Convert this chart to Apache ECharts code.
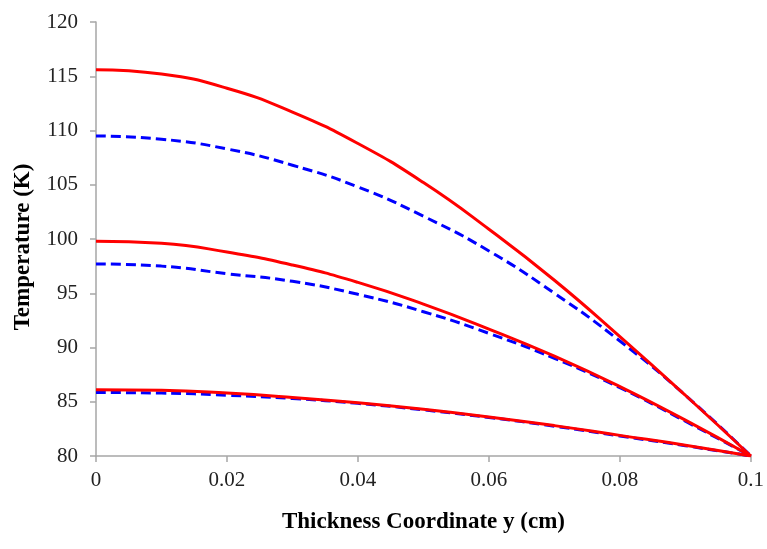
<!DOCTYPE html>
<html>
<head>
<meta charset="utf-8">
<script src="https://cdn.jsdelivr.net/npm/echarts@6/dist/echarts.min.js"></script>
<style>html,body{margin:0;padding:0;background:#fff;}#c{width:767px;height:549px;}</style>
</head>
<body>
<div id="c"></div>
<script>
const yPos = [0, 0.01, 0.02, 0.03, 0.04, 0.05, 0.06, 0.07, 0.08, 0.09, 0.1];
const redHigh  = [115.6, 115.2, 113.9, 111.7, 108.8, 105.2, 100.9, 96.2, 91.0, 85.6, 80];
const blueHigh = [109.5, 109.2, 108.3, 106.8, 104.8, 102.1, 98.9, 95.0, 90.6, 85.6, 80];
const redMid   = [99.8, 99.6, 98.8, 97.6, 96.0, 94.0, 91.7, 89.2, 86.4, 83.3, 80];
const blueMid  = [97.7, 97.5, 96.8, 96.1, 94.9, 93.3, 91.3, 89.0, 86.3, 83.2, 80];
const redLow   = [86.1, 86.05, 85.8, 85.4, 84.9, 84.3, 83.6, 82.8, 81.9, 81.0, 80];
const blueLow  = [85.85, 85.8, 85.6, 85.3, 84.85, 84.25, 83.55, 82.75, 81.85, 80.95, 80];
const xTitle = 'Thickness Coordinate y (cm)';
const yTitle = 'Temperature (K)';

const pairs = arr => yPos.map((x, i) => [x, arr[i]]);
const font = 'Liberation Serif';
const mk = (arr, color, dashed) => ({
  type: 'line', data: pairs(arr), smooth: true, symbol: 'none',
  lineStyle: { color: color, width: 3, type: dashed ? [10, 5] : 'solid' },
  z: dashed ? 2 : 3, animation: false
});
const chart = echarts.init(document.getElementById('c'));
chart.setOption({
  animation: false,
  backgroundColor: '#fff',
  grid: { left: 96, right: 15, top: 22, bottom: 93 },
  xAxis: {
    type: 'value', min: 0, max: 0.1, interval: 0.02,
    name: xTitle, nameLocation: 'middle', nameGap: 55,
    nameTextStyle: { fontFamily: font, fontWeight: 'bold', fontSize: 23, color: '#000' },
    axisLine: { lineStyle: { color: '#a6a6a6', width: 1.5 } },
    axisTick: { show: true, inside: false, length: 6, lineStyle: { color: '#a6a6a6', width: 1.5 } },
    axisLabel: { fontFamily: font, fontSize: 21, color: '#222', margin: 14 },
    splitLine: { show: false }
  },
  yAxis: {
    type: 'value', min: 80, max: 120, interval: 5,
    name: yTitle, nameLocation: 'middle', nameGap: 61, nameRotate: 90,
    nameTextStyle: { fontFamily: font, fontWeight: 'bold', fontSize: 23, color: '#000', padding: [0, 16, 0, 0] },
    axisLine: { show: true, lineStyle: { color: '#a6a6a6', width: 1.5 } },
    axisTick: { show: true, inside: false, length: 6, lineStyle: { color: '#a6a6a6', width: 1.5 } },
    axisLabel: { fontFamily: font, fontSize: 21, color: '#222', margin: 18 },
    splitLine: { show: false }
  },
  series: [
    mk(blueHigh, '#0000ff', true),
    mk(blueMid, '#0000ff', true),
    mk(blueLow, '#0000ff', true),
    mk(redHigh, '#ff0000', false),
    mk(redMid, '#ff0000', false),
    mk(redLow, '#ff0000', false)
  ]
});
</script>
</body>
</html>
